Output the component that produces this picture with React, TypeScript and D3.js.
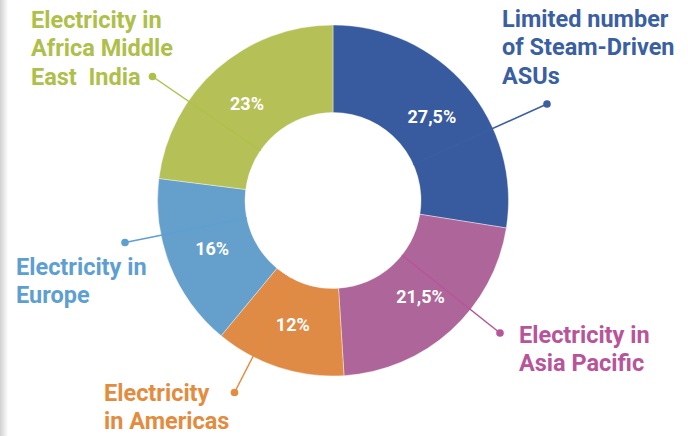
import React from "react";
import * as d3 from "d3";

const categories = [
  "Limited number of Steam-Driven ASUs",
  "Electricity in Asia Pacific",
  "Electricity in Americas",
  "Electricity in Europe",
  "Electricity in Africa Middle East  India",
];
const values = [27.5, 21.5, 12, 16, 23];
const valueLabels = ["27,5%", "21,5%", "12%", "16%", "23%"];
const labelLines = [
  ["Limited number", "of Steam-Driven", "ASUs"],
  ["Electricity in", "Asia Pacific"],
  ["Electricity", "in Americas"],
  ["Electricity in", "Europe"],
  ["Electricity in", "Africa Middle", "East  India"],
];
const sliceColors = ["#375B9E", "#AE6599", "#DF8A45", "#659FCB", "#B5C157"];
const textColors = ["#3A5FA2", "#B8559A", "#E38C3E", "#5E9FD2", "#AEC04A"];

// layout (not data): text anchor positions and leader dots
const textPos = [
  { x: 502, y: 27 },
  { x: 519, y: 343 },
  { x: 104, y: 401 },
  { x: 16, y: 275 },
  { x: 31, y: 28 },
];
const dotPos = [
  { x: 547, y: 104 },
  { x: 500, y: 333 },
  { x: 234.5, y: 392.5 },
  { x: 125, y: 242.5 },
  { x: 152.5, y: 76.5 },
];

const W = 688;
const H = 436;
const cx = 333;
const cy = 200.5;
const outerR = 175.5;
const innerR = 88;

export default function App() {
  const pie = d3
    .pie<number>()
    .sort(null)
    .value((d) => d)
    .startAngle(0)
    .endAngle(2 * Math.PI);
  const arcs = pie(values);
  const arc = d3.arc<d3.PieArcDatum<number>>().innerRadius(innerR).outerRadius(outerR);
  const labelArc = d3.arc<d3.PieArcDatum<number>>().innerRadius(130).outerRadius(130);

  return (
    <svg
      width={W}
      height={H}
      viewBox={`0 0 ${W} ${H}`}
      style={{ position: "absolute", left: 0, top: 0, background: "#fff" }}
      fontFamily="Roboto, 'Open Sans', sans-serif"
    >
      <defs>
        <linearGradient id="edge" x1="0" x2="1" y1="0" y2="0">
          <stop offset="0" stopColor="#d0d0d0" />
          <stop offset="1" stopColor="#ffffff" />
        </linearGradient>
      </defs>
      <rect x={0} y={0} width={8} height={H} fill="url(#edge)" />
      <g transform={`translate(${cx},${cy})`}>
        {arcs.map((a, i) => (
          <path key={categories[i]} d={arc(a) || ""} fill={sliceColors[i]} stroke="#fff" strokeWidth={0.4} />
        ))}
        {arcs.map((a, i) => {
          const [lx, ly] = labelArc.centroid(a);
          return (
            <text
              key={"v" + i}
              x={lx}
              y={ly}
              textAnchor="middle"
              dominantBaseline="central"
              fill="#fff"
              fontWeight={700}
              fontSize={18}
            >
              {valueLabels[i]}
            </text>
          );
        })}
      </g>
      {dotPos.map((p, i) => {
        const dx = p.x - cx;
        const dy = p.y - cy;
        const len = Math.sqrt(dx * dx + dy * dy);
        const sx = cx + (dx / len) * innerR;
        const sy = cy + (dy / len) * innerR;
        return (
          <g key={"l" + i}>
            <line x1={sx} y1={sy} x2={p.x} y2={p.y} stroke={textColors[i]} strokeWidth={1.5} />
            <circle cx={p.x} cy={p.y} r={3.8} fill={textColors[i]} />
          </g>
        );
      })}
      {labelLines.map((lines, i) => (
        <text key={"t" + i} x={textPos[i].x} y={textPos[i].y} fill={textColors[i]} fontWeight={700} fontSize={23.5}>
          {lines.map((ln, j) => (
            <tspan key={j} x={textPos[i].x} dy={j === 0 ? 0 : 28.3} style={{ whiteSpace: "pre" }}>
              {ln}
            </tspan>
          ))}
        </text>
      ))}
    </svg>
  );
}
